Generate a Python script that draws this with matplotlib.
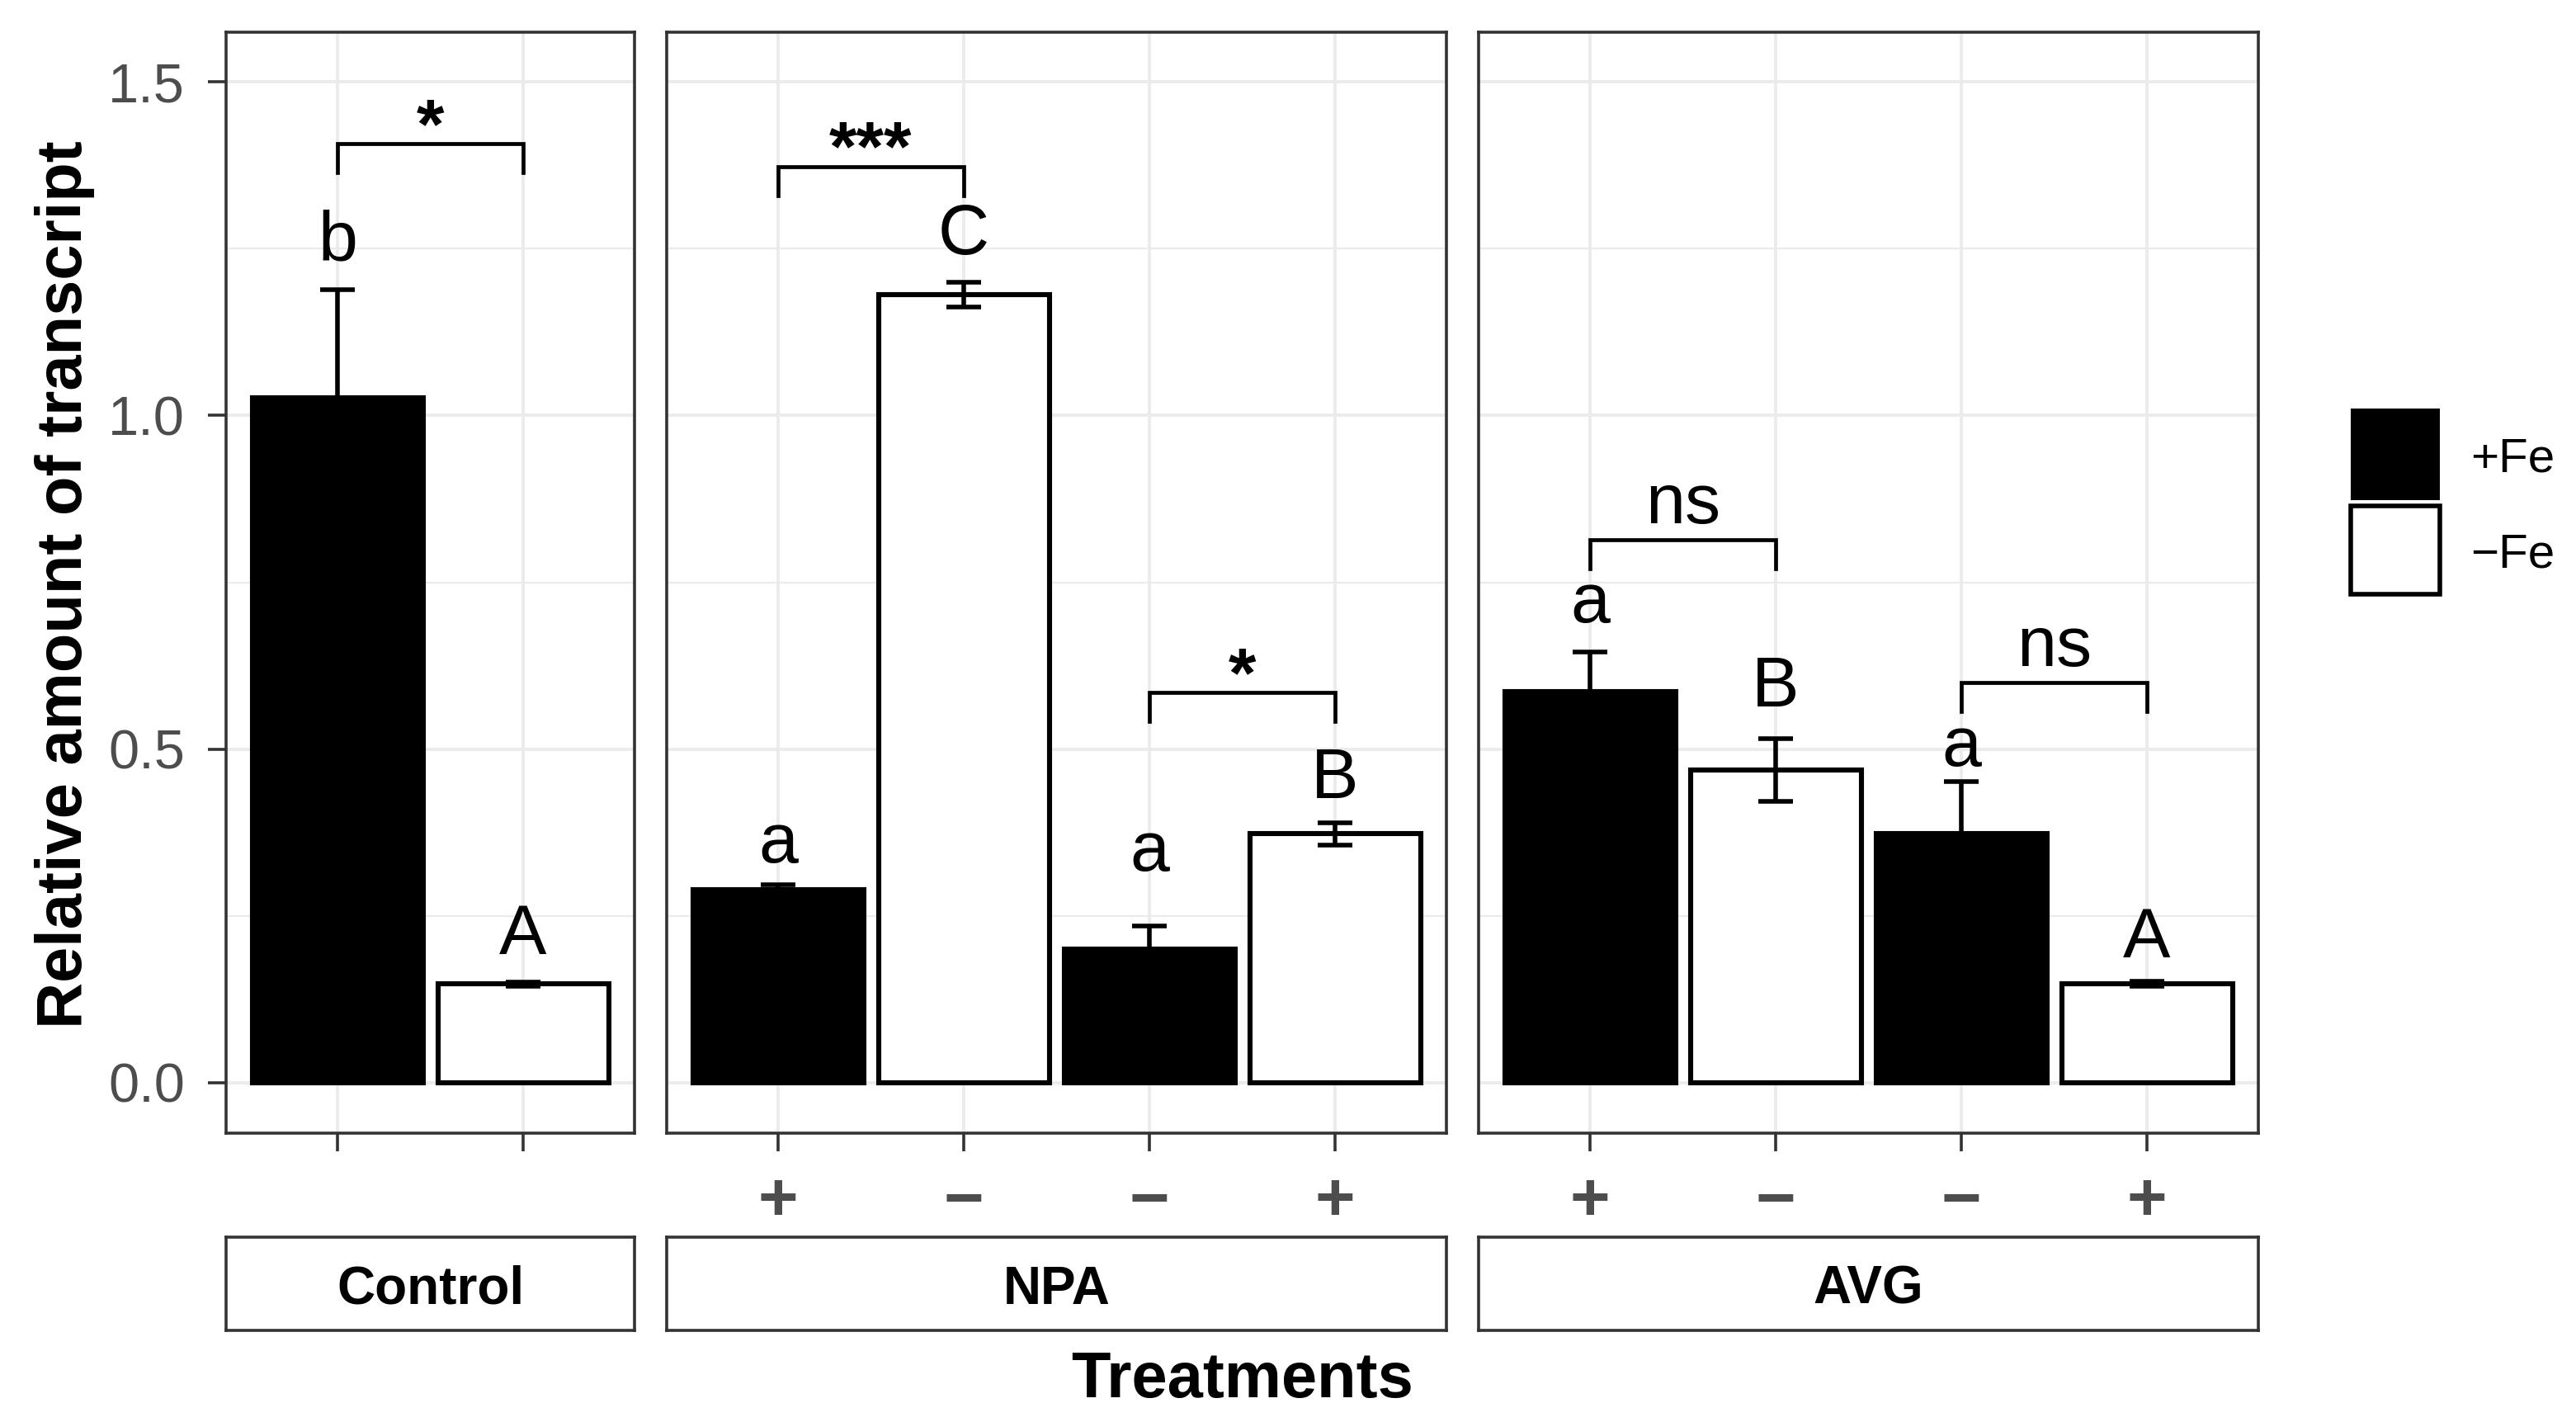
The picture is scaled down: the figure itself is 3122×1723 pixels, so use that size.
import matplotlib
matplotlib.use("Agg")
import matplotlib.pyplot as plt
from matplotlib.patches import Rectangle

plt.rcParams['font.family'] = ['Liberation Sans', 'DejaVu Sans']

# ---------------- data ----------------
groups = ["Control", "NPA", "AVG"]
tick_labels = {"Control": ["", ""],
               "NPA": ["+", "\u2212", "\u2212", "+"],
               "AVG": ["+", "\u2212", "\u2212", "+"]}
fe_status = {"Control": ["+Fe", "\u2212Fe"],
             "NPA": ["+Fe", "\u2212Fe", "+Fe", "\u2212Fe"],
             "AVG": ["+Fe", "\u2212Fe", "+Fe", "\u2212Fe"]}
means = {"Control": [1.027, 0.148],
         "NPA": [0.289, 1.181, 0.200, 0.373],
         "AVG": [0.586, 0.469, 0.373, 0.148]}
ses = {"Control": [0.161, 0.003],
       "NPA": [0.008, 0.018, 0.035, 0.017],
       "AVG": [0.059, 0.047, 0.078, 0.004]}
letters = {"Control": ["b", "A"],
           "NPA": ["a", "C", "a", "B"],
           "AVG": ["a", "B", "a", "A"]}
letter_y = {"Control": [1.233, 0.193],
            "NPA": [0.330, 1.242, 0.318, 0.427],
            "AVG": [0.690, 0.564, 0.475, 0.188]}
# (group, bar i, bar j, bracket height, label)
brackets = [("Control", 1, 2, 1.407, "*"),
            ("NPA", 1, 2, 1.373, "***"),
            ("NPA", 3, 4, 0.585, "*"),
            ("AVG", 1, 2, 0.814, "ns"),
            ("AVG", 3, 4, 0.600, "ns")]
legend_labels = ["+Fe", "\u2212Fe"]
fill_colors = {"+Fe": "black", "\u2212Fe": "white"}

# ---------------- layout ----------------
W, H = 3122, 1723
DPI = 200
fig = plt.figure(figsize=(W / DPI, H / DPI), dpi=DPI)


def fax(l, t, r, b):
    return fig.add_axes([l / W, 1 - b / H, (r - l) / W, (b - t) / H])


left0, right_end, gap = 274, 2737, 39
panel_top, panel_bot = 38.5, 1372.5
strip_top, strip_bot = 1499, 1612
nbars = [len(means[g]) for g in groups]
units = [n + 0.2 for n in nbars]
ppu = (right_end - left0 - gap * (len(groups) - 1)) / sum(units)

GRID = "#EBEBEB"
BORDER = "#333333"
TXT = "#4D4D4D"

xl = left0
for gi, g in enumerate(groups):
    n = nbars[gi]
    wpx = units[gi] * ppu
    ax = fax(xl, panel_top, xl + wpx, panel_bot)
    sax = fax(xl, strip_top, xl + wpx, strip_bot)
    xl += wpx + gap

    x = list(range(1, n + 1))
    ax.set_xlim(0.4, n + 0.6)
    ax.set_ylim(-0.075, 1.575)
    ax.set_yticks([0, 0.5, 1.0, 1.5])
    ax.set_yticks([0.25, 0.75, 1.25], minor=True)
    ax.set_xticks(x)
    ax.set_xticklabels([""] * n)
    ax.grid(which="major", color=GRID, lw=1.4)
    ax.grid(which="minor", axis="y", color=GRID, lw=0.8)
    ax.set_axisbelow(True)
    for s in ax.spines.values():
        s.set_color(BORDER)
        s.set_linewidth(1.3)
    ax.tick_params(axis="x", length=8, width=1.3, color=BORDER)
    ax.tick_params(axis="y", which="minor", length=0)
    if gi == 0:
        ax.set_yticklabels(["0.0", "0.5", "1.0", "1.5"])
        ax.tick_params(axis="y", which="major", length=8, width=1.3,
                       color=BORDER, labelsize=24, labelcolor=TXT, pad=10)
    else:
        ax.tick_params(axis="y", which="major", left=False, labelleft=False)

    fills = [fill_colors[f] for f in fe_status[g]]
    ax.bar(x, means[g], width=0.92, color=fills, edgecolor="black",
           linewidth=2.2, zorder=2)
    ax.errorbar(x, means[g], yerr=ses[g], fmt="none", ecolor="black",
                elinewidth=2.0, capsize=7.7, capthick=2.0, zorder=3)

    for xi, lab, ly in zip(x, letters[g], letter_y[g]):
        ax.text(xi, ly, lab, ha="center", va="baseline", fontsize=31, zorder=4)

    for (bg, i, j, by, lab) in brackets:
        if bg != g:
            continue
        tip = 0.043
        ax.plot([i, i, j, j], [by - tip, by, by, by - tip], color="black",
                lw=1.7, solid_joinstyle="miter", zorder=4)
        if "*" in lab:
            ax.text((i + j) / 2, by - 0.006, lab, ha="center", va="baseline",
                    fontsize=31, fontweight="bold", zorder=4)
        else:
            ax.text((i + j) / 2, by + 0.025, lab, ha="center", va="baseline",
                    fontsize=31, zorder=4)

    # x tick labels (+ / -)
    y_axes = (panel_bot - 1479) / (panel_bot - panel_top)
    for xi, lab in zip(x, tick_labels[g]):
        if lab:
            ax.text(xi, y_axes, lab, transform=ax.get_xaxis_transform(),
                    ha="center", va="baseline", fontsize=30,
                    fontweight="bold", color=TXT, clip_on=False)

    # strip
    sax.set_xticks([])
    sax.set_yticks([])
    sax.set_facecolor("white")
    for s in sax.spines.values():
        s.set_color(BORDER)
        s.set_linewidth(1.3)
    sy = (strip_bot - 1580) / (strip_bot - strip_top)
    sax.text(0.5, sy, g, transform=sax.transAxes, ha="center",
             va="baseline", fontsize=23, fontweight="bold", color="black")

# axis titles
fig.text(1506 / W, 1 - 1693 / H, "Treatments", ha="center", va="baseline",
         fontsize=28, fontweight="bold")
fig.text(79 / W, 1 - 708 / H, "Relative amount of transcript", rotation=90,
         ha="center", va="center", fontsize=28, fontweight="bold")

# legend
key_y = [(495, 606), (613, 720)]
text_base = [571, 688]
for lab, (t, b), tb in zip(legend_labels, key_y, text_base):
    col = fill_colors[lab]
    rect = Rectangle((2849 / W, 1 - b / H), (2957 - 2849) / W, (b - t) / H,
                     transform=fig.transFigure, facecolor=col,
                     edgecolor="black", lw=2.0 if col == "white" else 0)
    fig.add_artist(rect)
    fig.text(2994 / W, 1 - tb / H, lab, ha="left", va="baseline", fontsize=21)

fig.savefig("out.png", dpi=DPI)
